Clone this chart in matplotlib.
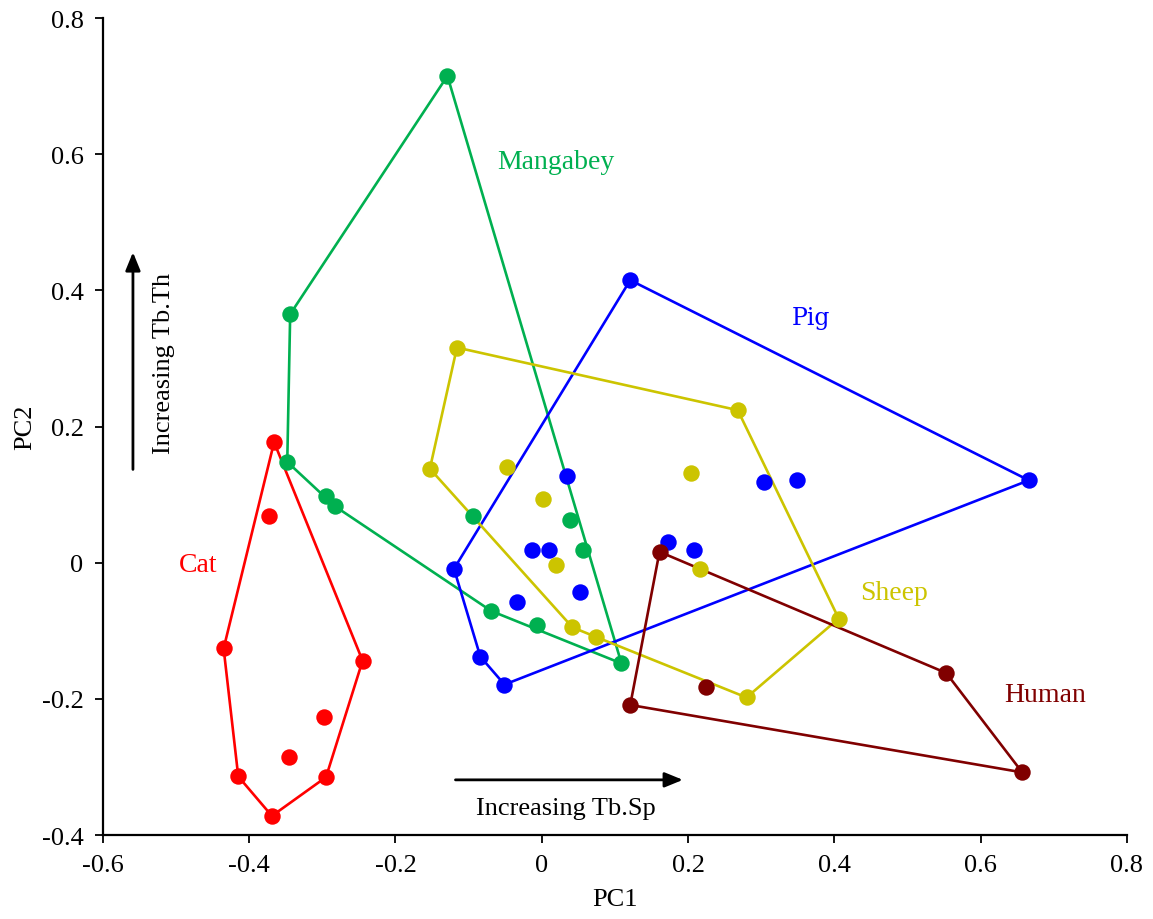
import numpy as np
import matplotlib
matplotlib.use("Agg")
import matplotlib.pyplot as plt

plt.rcParams['font.family'] = ['Liberation Serif', 'DejaVu Serif']

# PCA scores (PC1, PC2) per species
cat_x = [-0.366, -0.373, -0.435, -0.245, -0.298, -0.345, -0.415, -0.295, -0.369]
cat_y = [0.177, 0.068, -0.126, -0.144, -0.226, -0.286, -0.314, -0.315, -0.372]

mangabey_x = [-0.129, -0.344, -0.348, -0.295, -0.283, -0.094, -0.069, -0.007, 0.109, 0.056, 0.038]
mangabey_y = [0.715, 0.365, 0.148, 0.098, 0.083, 0.068, -0.071, -0.092, -0.148, 0.019, 0.063]

pig_x = [0.121, 0.666, 0.304, 0.349, 0.034, -0.014, 0.010, -0.120, 0.052, -0.034, -0.084, -0.051, 0.172, 0.208]
pig_y = [0.415, 0.121, 0.119, 0.122, 0.127, 0.018, 0.019, -0.009, -0.043, -0.058, -0.138, -0.179, 0.030, 0.018]

sheep_x = [-0.116, 0.268, 0.204, -0.153, -0.047, 0.002, 0.020, 0.042, 0.074, 0.217, 0.406, 0.280]
sheep_y = [0.316, 0.224, 0.131, 0.138, 0.140, 0.093, -0.004, -0.095, -0.109, -0.010, -0.082, -0.198]

human_x = [0.161, 0.553, 0.657, 0.121, 0.225]
human_y = [0.016, -0.162, -0.308, -0.209, -0.183]

groups = [
    ("Cat", cat_x, cat_y, "#FF0000", (-0.470, -0.003)),
    ("Mangabey", mangabey_x, mangabey_y, "#00B050", (0.019, 0.590)),
    ("Pig", pig_x, pig_y, "#0000FF", (0.368, 0.360)),
    ("Sheep", sheep_x, sheep_y, "#CCC400", (0.482, -0.044)),
    ("Human", human_x, human_y, "#800000", (0.688, -0.194)),
]


def convex_hull(xs, ys):
    pts = sorted(set(zip(xs, ys)))

    def cross(o, a, b):
        return (a[0] - o[0]) * (b[1] - o[1]) - (a[1] - o[1]) * (b[0] - o[0])

    lower, upper = [], []
    for p in pts:
        while len(lower) >= 2 and cross(lower[-2], lower[-1], p) <= 0:
            lower.pop()
        lower.append(p)
    for p in reversed(pts):
        while len(upper) >= 2 and cross(upper[-2], upper[-1], p) <= 0:
            upper.pop()
        upper.append(p)
    hull = lower[:-1] + upper[:-1]
    hull.append(hull[0])
    return np.array(hull)


fig = plt.figure(figsize=(11.53, 9.2), dpi=100)
ax = fig.add_axes([0.0893, 0.0913, 0.888, 0.888])

for name, xs, ys, col, lab in groups:
    h = convex_hull(xs, ys)
    ax.plot(h[:, 0], h[:, 1], color=col, lw=1.9, zorder=2)
    ax.scatter(xs, ys, s=140, color=col, zorder=3, linewidths=0)
    fam = ['DejaVu Serif'] if name == "Pig" else None
    ax.text(lab[0], lab[1], name, color=col, fontsize=20 if name != "Pig" else 17,
            ha='center', va='center', family=fam)

# direction arrows
arrow = dict(arrowstyle="-|>,head_length=1.1,head_width=0.45", color='black', lw=2.0,
             shrinkA=0, shrinkB=0)
ax.annotate("", xy=(-0.559, 0.456), xytext=(-0.559, 0.137), arrowprops=arrow)
ax.text(-0.517, 0.294, "Increasing Tb.Th", rotation=90, fontsize=19, ha='center', va='center')
ax.annotate("", xy=(0.193, -0.319), xytext=(-0.118, -0.319), arrowprops=arrow)
ax.text(0.033, -0.360, "Increasing Tb.Sp", fontsize=19, ha='center', va='center')

ax.set_xlim(-0.6, 0.8)
ax.set_ylim(-0.4, 0.8)
ax.set_xticks(np.arange(-0.6, 0.81, 0.2))
ax.set_yticks(np.arange(-0.4, 0.81, 0.2))
fmt = lambda v, p: "0" if abs(v) < 1e-9 else f"{v:.1f}"
ax.xaxis.set_major_formatter(plt.FuncFormatter(fmt))
ax.yaxis.set_major_formatter(plt.FuncFormatter(fmt))
ax.tick_params(direction='out', length=6, width=1.3, labelsize=19, pad=8)
for s in ['top', 'right']:
    ax.spines[s].set_visible(False)
for s in ['left', 'bottom']:
    ax.spines[s].set_linewidth(1.6)
ax.set_xlabel("PC1", fontsize=19, labelpad=8)
ax.set_ylabel("PC2", fontsize=19, labelpad=4)

fig.savefig("out.png", dpi=100)
